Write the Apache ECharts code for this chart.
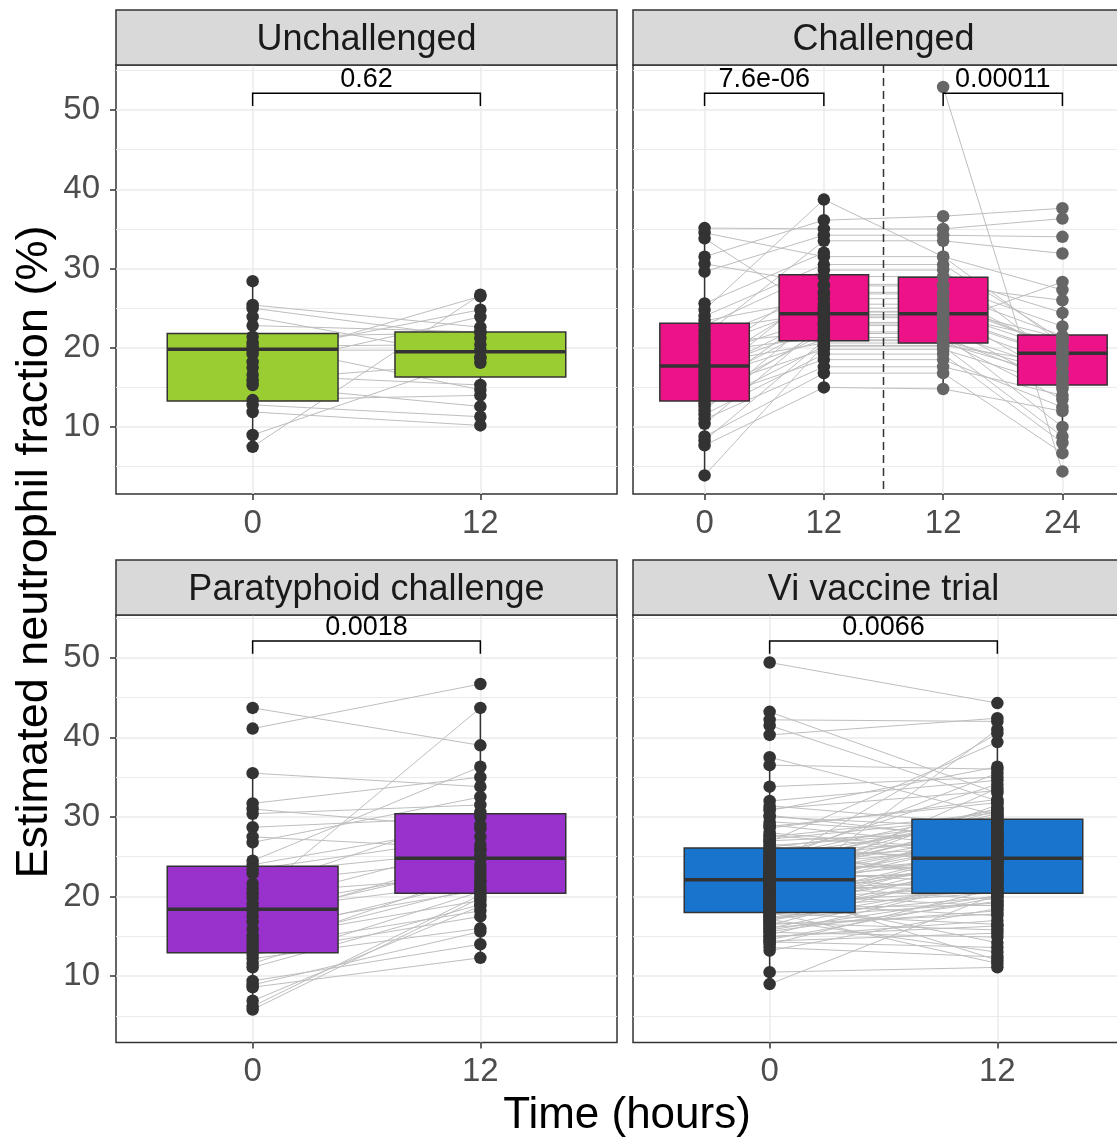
<!DOCTYPE html>
<html><head><meta charset="utf-8">
<script src="https://cdn.jsdelivr.net/npm/echarts@6/dist/echarts.min.js"></script>
<style>html,body{margin:0;padding:0;background:#fff;overflow:hidden}#c{width:1140px;height:1142px}</style>
</head><body><div id="c"></div>
<script>
// ================= DATA =================
const panelTitles = ['Unchallenged', 'Challenged', 'Paratyphoid challenge', 'Vi vaccine trial'];
const timeLabels2 = ['0', '12'];
const timeLabelsChal = ['0', '12', '12', '24'];
const yTickValues = [10, 20, 30, 40, 50];
const yMinorValues = [5, 15, 25, 35, 45, 55];
const xAxisTitle = 'Time (hours)';
const yAxisTitle = 'Estimated neutrophil fraction (%)';

// Unchallenged: paired subjects (0 h, 12 h)
const unchT0  = [28.4, 25.4, 25.0, 23.9, 22.8, 21.4, 20.6, 20.2, 19.7, 19.2, 18.2, 17.5, 16.6, 15.9, 15.3, 13.4, 12.8, 11.9, 9.0, 7.5];
const unchT12 = [null, 22.6, 21.2, 18.7, 22.0, 21.9, 14.7, 20.4, 19.7, 24.8, 26.5, 23.9, 15.3, 18.1, 12.6, 14.0, 11.3, 10.2, 18.8, 26.7];

// Challenged: subjects (0 h, 12 h, 12 h, 24 h)
const chalT0   = [35.1, 34.5, 33.8, 31.5, 30.6, 29.6, 25.6, 24.8, 24.0, 23.4, 22.8, 22.2, 21.6, 21.0, 20.5, 20.0, 19.5, 19.0, 18.5, 18.0, 17.6, 17.2, 16.7, 16.2, 15.8, 15.3, 14.8, 14.3, 13.9, 13.4, 13.0, 12.6, 12.1, 11.6, 11.0, 10.4, 8.8, 8.3, 7.7, 3.9, null];
const chalT12  = [35.0, 31.5, 24.0, 36.1, 28.0, 34.2, 32.0, 38.7, 30.5, 26.2, 29.8, 24.5, 33.5, 27.0, 22.0, 25.5, 21.3, 23.8, 29.0, 20.6, 26.8, 22.8, 24.2, 21.0, 27.8, 23.2, 19.8, 25.0, 21.8, 18.5, 22.4, 20.2, 24.6, 19.2, 17.6, 23.0, 16.8, 20.9, 15.0, 20.3, null];
const chalT12b = [35.0, 31.5, 24.0, 36.6, 28.0, 34.2, null, 31.5, 30.5, 26.2, 29.8, 24.5, 33.5, 27.0, 22.0, 25.5, 21.3, 23.8, 29.0, 20.6, 26.8, 22.8, 24.2, 21.0, 27.8, 23.2, 19.8, 25.0, 21.8, 18.5, null, 20.2, 24.6, 19.2, 17.6, 23.0, 16.8, 20.9, 14.8, 20.3, 52.9];
const chalT24  = [36.3, 27.3, 19.0, 37.6, 22.7, 34.0, null, 20.5, 21.0, 19.5, 18.2, 16.0, 31.9, 21.5, 17.0, 20.0, 15.5, 18.8, 24.4, 16.2, 19.3, 14.8, 20.8, 13.5, 26.0, 17.8, 15.2, 21.2, 10.0, 12.5, null, 8.8, 19.6, 8.0, 14.0, 28.3, 6.7, 16.8, 12.0, 18.0, 4.4];

// Paratyphoid challenge: paired subjects (0 h, 12 h)
const paraT0  = [43.7, 41.1, 35.5, 31.7, 31.0, 30.4, 28.7, 27.5, 26.8, 24.5, 24.0, 23.4, 22.9, 21.6, 21.0, 20.4, 19.8, 19.1, 18.6, 18.2, 17.5, 16.8, 15.9, 15.1, 14.6, 14.1, 13.6, 13.2, 12.7, 12.2, 11.6, 11.1, 9.4, 8.9, 8.6, 6.9, 6.2, 5.8];
const paraT12 = [39.0, 46.7, 33.8, 35.0, 28.5, 31.5, 30.0, 26.0, 32.5, 36.3, 29.0, 27.5, 25.8, 24.8, 30.6, 22.5, 43.7, 26.5, 23.5, 21.8, 24.0, 25.2, 20.8, 22.0, 19.5, 21.2, 18.2, 23.0, 17.5, 16.0, 20.6, 19.0, 14.0, 15.6, 12.3, 18.8, 20.2, 19.8];

// Vi vaccine trial: paired subjects (0 h, 12 h)
const viT0  = [49.4, 43.2, 42.2, 41.5, 40.3, 23.8, 37.5, 36.5, 33.8, 22.0, 32.0, 31.4, 30.8, 30.2, 21.4, 29.0, 20.8, 28.0, 19.6, 27.5, 27.0, 26.9, 26.6, 26.2, 25.8, 25.4, 25.0, 24.6, 24.4, 24.2, 23.9, 23.6, 23.3, 23.0, 22.9, 22.7, 22.4, 22.1, 21.8, 21.5, 21.2, 21.0, 20.9, 20.6, 20.3, 20.0, 19.9, 19.7, 19.4, 19.1, 18.8, 18.5, 18.2, 18.0, 17.9, 17.6, 17.3, 17.0, 16.7, 16.4, 16.1, 15.8, 15.5, 15.2, 14.9, 14.6, 14.3, 14.0, 13.6, 13.2, 10.5, 9.0,
                29.4, 28.6, 27.7, 27.2, 26.4, 25.6, 25.2, 24.8, 24.0, 23.5, 23.1, 22.6, 22.3, 21.9, 21.6, 21.3, 20.7, 20.4, 20.1, 19.8, 19.3, 18.9, 18.6, 18.3, 17.7, 17.4, 16.9, 16.5, 16.0, 15.6, 15.0, 14.4, 31.0, 30.0, 28.8, 26.0, 24.9, 22.5, 19.0, 17.1];
const viT12 = [44.3, 33.0, 42.0, 32.0, 42.4, 31.0, 30.2, 36.0, 35.0, 27.5, 34.6, 29.0, 36.3, 27.0, 31.5, 26.0, 33.6, 25.5, 41.0, 30.5, 28.2, 39.4, 24.0, 29.5, 26.8, 22.5, 31.0, 27.8, 35.5, 23.2, 40.5, 26.5, 21.5, 28.8, 30.8, 25.0, 20.8, 24.6, 29.9, 19.6, 25.8, 12.0, 22.0, 27.2, 18.8, 24.3, 14.2, 21.2, 26.2, 17.6, 23.6, 20.5, 24.8, 11.6, 16.5, 22.8, 19.2, 21.8, 15.8, 23.9, 18.2, 20.1, 14.9, 22.2, 17.0, 19.9, 13.6, 21.0, 12.4, 18.5, 11.1, 20.3,
                27.6, 32.2, 25.2, 30.0, 28.4, 21.8, 29.2, 26.3, 30.4, 24.1, 27.9, 22.7, 29.6, 23.4, 26.9, 20.9, 28.1, 24.4, 22.4, 29.3, 20.6, 26.1, 18.9, 25.6, 23.1, 20.0, 24.9, 17.8, 22.1, 19.4, 16.3, 15.4, 33.3, 28.6, 31.8, 24.7, 34.1, 27.4, 25.3, 13.0];

// Box statistics: [lower whisker, Q1, median, Q3, upper whisker]
const unchBox = [[7.5, 13.3, 19.8, 21.8, 28.4], [10.2, 16.3, 19.5, 22.0, 26.7]];
const chalBox = [[3.9, 13.3, 17.7, 23.1, 35.1], [15.0, 20.9, 24.3, 29.2, 38.7], [14.8, 20.6, 24.3, 28.9, 36.6], [6.7, 15.3, 19.3, 21.6, 28.3]];
const paraBox = [[5.8, 12.95, 18.4, 23.8, 35.5], [12.3, 20.4, 24.8, 30.4, 43.7]];
const viBox   = [[9.0, 18.0, 22.1, 26.1, 37.5], [11.1, 20.4, 24.8, 29.7, 42.4]];

// Significance comparisons (category positions) and p-values
const unchComparisons = [[1, 2]];
const chalComparisons = [[1, 2], [3, 4]];
const paraComparisons = [[1, 2]];
const viComparisons   = [[1, 2]];
const unchP = ['0.62'];
const chalP = ['7.6e-06', '0.00011'];
const paraP = ['0.0018'];
const viP   = ['0.0066'];
const chalSeparator = [2.5];

// ================= STYLE / LAYOUT =================
const FONT = '"Liberation Sans", Arial, Helvetica, sans-serif';
const DARK = '#333333';
const GRIDC = '#EBEBEB';
const BR = { bar: 52.1, tip: 50.5, text: 53.8 };
const gridsPx = [
  { left: 116, top: 65, width: 501, height: 429 },
  { left: 633, top: 65, width: 501, height: 429 },
  { left: 116, top: 615, width: 501, height: 427.5 },
  { left: 633, top: 615, width: 501, height: 427.5 }
];
const yRanges = [[1.55, 55.68], [1.55, 55.68], [1.66, 55.37], [1.66, 55.37]];

const panels = [
  { cols: [unchT0, unchT12], ptColors: [DARK, DARK], pairs: [[0, 1]], boxes: unchBox, boxColor: '#9ACD32', labels: timeLabels2, comps: unchComparisons, pvals: unchP, vlines: [] },
  { cols: [chalT0, chalT12, chalT12b, chalT24], ptColors: [DARK, DARK, '#666666', '#666666'], pairs: [[0, 1], [1, 2], [2, 3]], boxes: chalBox, boxColor: '#EE1289', labels: timeLabelsChal, comps: chalComparisons, pvals: chalP, vlines: chalSeparator },
  { cols: [paraT0, paraT12], ptColors: [DARK, DARK], pairs: [[0, 1]], boxes: paraBox, boxColor: '#9932CC', labels: timeLabels2, comps: paraComparisons, pvals: paraP, vlines: [] },
  { cols: [viT0, viT12], ptColors: [DARK, DARK], pairs: [[0, 1]], boxes: viBox, boxColor: '#1874CD', labels: timeLabels2, comps: viComparisons, pvals: viP, vlines: [] }
];

const grid = gridsPx.map(g => ({ left: g.left, top: g.top, width: g.width, height: g.height, show: true, borderColor: DARK, borderWidth: 1.5, backgroundColor: 'transparent', containLabel: false }));

const xAxis = panels.map((p, gi) => {
  const vals = p.labels.map((_, i) => i + 1);
  return {
    type: 'value', gridIndex: gi, min: 0.4, max: p.labels.length + 0.6,
    axisLine: { show: false },
    axisTick: { show: true, customValues: vals, length: 6, lineStyle: { color: DARK, width: 1.5 } },
    axisLabel: { show: true, customValues: vals, formatter: v => p.labels[Math.round(v) - 1], fontSize: 33, color: '#4D4D4D', fontFamily: FONT, margin: 13 },
    splitLine: { show: true, lineStyle: { color: GRIDC, width: 1.5 } }
  };
});

const yAxis = [];
panels.forEach((p, gi) => {
  const left = gi % 2 === 0;
  yAxis.push({
    type: 'value', gridIndex: gi, min: yRanges[gi][0], max: yRanges[gi][1], position: 'left',
    axisLine: { show: false },
    axisTick: { show: left, customValues: yTickValues, length: 6, lineStyle: { color: DARK, width: 1.5 } },
    axisLabel: { show: left, customValues: yTickValues, fontSize: 33, color: '#4D4D4D', fontFamily: FONT, margin: 16 },
    splitLine: { show: true, lineStyle: { color: GRIDC, width: 1.5 } }
  });
  yAxis.push({
    type: 'value', gridIndex: gi, min: yRanges[gi][0], max: yRanges[gi][1], position: 'left',
    axisLine: { show: false },
    axisTick: { show: false, customValues: yMinorValues },
    axisLabel: { show: false, customValues: yMinorValues },
    splitLine: { show: true, lineStyle: { color: GRIDC, width: 1 } }
  });
});

const series = [];
panels.forEach((p, gi) => {
  const xi = gi, yi = gi * 2;
  // subject trajectories
  const lineData = [];
  p.pairs.forEach(([a, b]) => {
    p.cols[a].forEach((va, i) => {
      const vb = p.cols[b][i];
      if (va != null && vb != null) lineData.push([a + 1, va, b + 1, vb]);
    });
  });
  series.push({
    type: 'custom', xAxisIndex: xi, yAxisIndex: yi, z: 1, silent: true, data: lineData,
    encode: { x: [0, 2], y: [1, 3] },
    renderItem: (params, api) => {
      const p1 = api.coord([api.value(0), api.value(1)]);
      const p2 = api.coord([api.value(2), api.value(3)]);
      return { type: 'line', shape: { x1: p1[0], y1: p1[1], x2: p2[0], y2: p2[1] }, style: { stroke: '#BEBEBE', lineWidth: 1 } };
    }
  });
  // separator
  if (p.vlines.length) {
    series.push({
      type: 'custom', xAxisIndex: xi, yAxisIndex: yi, z: 1.5, silent: true, data: p.vlines.map(v => [v]),
      encode: { x: 0 },
      renderItem: (params, api) => {
        const cs = params.coordSys;
        const x = api.coord([api.value(0), 10])[0];
        return { type: 'line', shape: { x1: x, y1: cs.y, x2: x, y2: cs.y + cs.height }, style: { stroke: DARK, lineWidth: 1.5, lineDash: [8, 5] } };
      }
    });
  }
  // boxes
  series.push({
    type: 'custom', xAxisIndex: xi, yAxisIndex: yi, z: 2, silent: true,
    data: p.boxes.map((b, i) => [i + 1].concat(b)),
    encode: { x: 0, y: [1, 2, 3, 4, 5] },
    renderItem: (params, api) => {
      const x = api.value(0);
      const lo = api.coord([x, api.value(1)]);
      const q1 = api.coord([x, api.value(2)]);
      const md = api.coord([x, api.value(3)]);
      const q3 = api.coord([x, api.value(4)]);
      const hi = api.coord([x, api.value(5)]);
      const w = api.size([0.75, 0])[0];
      const cx = lo[0];
      return {
        type: 'group', children: [
          { type: 'line', shape: { x1: cx, y1: q3[1], x2: cx, y2: hi[1] }, style: { stroke: DARK, lineWidth: 1.5 } },
          { type: 'line', shape: { x1: cx, y1: q1[1], x2: cx, y2: lo[1] }, style: { stroke: DARK, lineWidth: 1.5 } },
          { type: 'rect', shape: { x: cx - w / 2, y: q3[1], width: w, height: q1[1] - q3[1] }, style: { fill: p.boxColor, stroke: DARK, lineWidth: 1.5 } },
          { type: 'line', shape: { x1: cx - w / 2, y1: md[1], x2: cx + w / 2, y2: md[1] }, style: { stroke: DARK, lineWidth: 3.5 } }
        ]
      };
    }
  });
  // points
  p.cols.forEach((col, ci) => {
    series.push({
      type: 'scatter', xAxisIndex: xi, yAxisIndex: yi, z: 3, silent: true,
      symbol: 'circle', symbolSize: 12.5,
      itemStyle: { color: p.ptColors[ci], opacity: 1 },
      data: col.filter(v => v != null).map(v => [ci + 1, v])
    });
  });
  // brackets + p-values
  series.push({
    type: 'custom', xAxisIndex: xi, yAxisIndex: yi, z: 4, silent: true,
    data: p.comps.map(c => [c[0], c[1]]),
    encode: { x: [0, 1] },
    renderItem: (params, api) => {
      const a = api.value(0), b = api.value(1);
      const A = api.coord([a, BR.bar]), B = api.coord([b, BR.bar]);
      const At = api.coord([a, BR.tip]), Bt = api.coord([b, BR.tip]);
      const T = api.coord([(a + b) / 2, BR.text]);
      return {
        type: 'group', children: [
          { type: 'polyline', shape: { points: [[At[0], At[1]], [A[0], A[1]], [B[0], B[1]], [Bt[0], Bt[1]]] }, style: { stroke: '#000', lineWidth: 1.5, fill: null } },
          { type: 'text', x: T[0], y: T[1], style: { text: p.pvals[params.dataIndex], fontSize: 27, fontFamily: FONT, fill: '#000', align: 'center', verticalAlign: 'middle' } }
        ]
      };
    }
  });
});

const graphic = [];
gridsPx.forEach((g, gi) => {
  graphic.push({ type: 'rect', z: 10, shape: { x: g.left, y: g.top - 55, width: g.width, height: 55 }, style: { fill: '#D9D9D9', stroke: DARK, lineWidth: 1.5 } });
  graphic.push({ type: 'text', z: 11, x: g.left + g.width / 2, y: g.top - 25, style: { text: panelTitles[gi], fontSize: 36, fontFamily: FONT, fill: '#1A1A1A', align: 'center', verticalAlign: 'middle' } });
});
graphic.push({ type: 'text', z: 11, x: 627, y: 1116, style: { text: xAxisTitle, fontSize: 44, fontFamily: FONT, fill: '#000', align: 'center', verticalAlign: 'middle' } });
graphic.push({ type: 'text', z: 11, x: 35, y: 552, rotation: Math.PI / 2, style: { text: yAxisTitle, fontSize: 45, fontFamily: FONT, fill: '#000', align: 'center', verticalAlign: 'middle' } });

const chart = echarts.init(document.getElementById('c'), null, { renderer: 'canvas', width: 1140, height: 1142 });
chart.setOption({ animation: false, backgroundColor: '#fff', grid, xAxis, yAxis, series, graphic });
</script>
</body></html>
